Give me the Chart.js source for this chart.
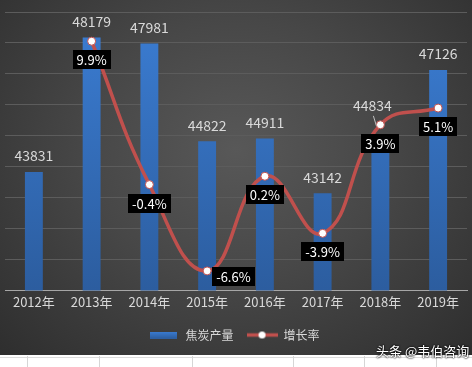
<!DOCTYPE html>
<html>
<head>
<meta charset="utf-8">
<script src="https://cdn.jsdelivr.net/npm/chart.js@4/dist/chart.umd.min.js"></script>
<style>
  html, body { margin: 0; padding: 0; background: #fff; }
  #wrap { position: relative; width: 472px; height: 367px; overflow: hidden; }
  #box {
    position: absolute; left: 0; top: 0; width: 472px; height: 355px;
    background: radial-gradient(ellipse at 50% 42%, #585858 0%, #474747 45%, #2e2e2e 100%);
  }
  .vl { position: absolute; top: 356px; width: 1px; height: 11px; background: #d6d6d6; }
  #hl { position: absolute; left: 0; top: 357px; width: 472px; height: 1px; background: #dcdcdc; }
  #mark {
    position: absolute; left: 376px; top: 341px; font: 13px "Noto Sans CJK SC", sans-serif;
    color: #fff; text-shadow: 0 0 2px #000, 0 0 2px #000; white-space: nowrap;
  }
</style>
</head>
<body>
<div id="wrap">
  <div id="hl"></div>
  <div class="vl" style="left:27px"></div>
  <div class="vl" style="left:99px"></div>
  <div class="vl" style="left:192px"></div>
  <div class="vl" style="left:293px"></div>
  <div class="vl" style="left:364px"></div>
  <div class="vl" style="left:436px"></div>
  <div id="box"><canvas id="chart" width="472" height="355"></canvas></div>
  <div id="mark">头条 @韦伯咨询</div>
</div>
<script>
var years = ['2012年', '2013年', '2014年', '2015年', '2016年', '2017年', '2018年', '2019年'];
var output = [43831, 48179, 47981, 44822, 44911, 43142, 44834, 47126];
var growth = [null, 9.9, -0.4, -6.6, 0.2, -3.9, 3.9, 5.1];
var growthText = ['', '9.9%', '-0.4%', '-6.6%', '0.2%', '-3.9%', '3.9%', '5.1%'];

var FONT = '"Noto Sans CJK SC", sans-serif';
var LINE_RED = '#c0504d';

function barGradient(ctx, top, bottom) {
    var g = ctx.createLinearGradient(0, top, 0, bottom);
    g.addColorStop(0, '#3b7dd3');
    g.addColorStop(1, '#2c5d9f');
    return g;
}

// legend swatches
var barSwatch = document.createElement('canvas');
barSwatch.width = 27; barSwatch.height = 7;
(function () {
    var c = barSwatch.getContext('2d');
    c.fillStyle = barGradient(c, 0, 7);
    c.fillRect(0, 0, 27, 7);
})();
var lineSwatch = document.createElement('canvas');
lineSwatch.width = 31; lineSwatch.height = 9;
(function () {
    var c = lineSwatch.getContext('2d');
    c.strokeStyle = LINE_RED; c.lineWidth = 3.5;
    c.beginPath(); c.moveTo(0, 4.5); c.lineTo(31, 4.5); c.stroke();
    c.fillStyle = '#fff';
    c.beginPath(); c.arc(15.5, 4.5, 3.5, 0, Math.PI * 2); c.fill();
})();

var labelsPlugin = {
    id: 'valueLabels',
    afterDatasetsDraw: function (chart) {
        var ctx = chart.ctx;
        ctx.save();
        // bar values
        ctx.font = '14px ' + FONT;
        ctx.fillStyle = '#d9d9d9';
        ctx.textAlign = 'center';
        ctx.textBaseline = 'middle';
        chart.getDatasetMeta(0).data.forEach(function (bar, i) {
            var x = bar.x, y = bar.y - 16;
            if (i === 6) {
                x = bar.x - 8; y = bar.y - 35;
                ctx.strokeStyle = '#bfbfbf'; ctx.lineWidth = 1;
                ctx.beginPath(); ctx.moveTo(bar.x - 7, bar.y - 25); ctx.lineTo(bar.x - 4, bar.y - 15); ctx.stroke();
            }
            ctx.fillText(String(output[i]), x, y);
        });
        // growth labels
        ctx.font = '13px ' + FONT;
        chart.getDatasetMeta(1).data.forEach(function (pt, i) {
            if (growth[i] === null) return;
            var t = growthText[i];
            var w = ctx.measureText(t).width + 8, h = 19;
            var cx = pt.x, cy = pt.y + 18.5;
            if (i === 3) { cx = pt.x + 5 + w / 2; cy = pt.y + 6; }
            ctx.fillStyle = '#000';
            ctx.fillRect(Math.round(cx - w / 2), Math.round(cy - h / 2), Math.round(w), h);
            ctx.fillStyle = '#fff';
            ctx.fillText(t, cx, cy + 0.5);
        });
        ctx.restore();
    }
};

new Chart(document.getElementById('chart'), {
    data: {
        labels: years,
        datasets: [{
            type: 'bar',
            label: '焦炭产量',
            data: output,
            yAxisID: 'y',
            order: 1,
            backgroundColor: function (c) {
                var a = c.chart.chartArea;
                if (!a) return '#3572c0';
                return barGradient(c.chart.ctx, a.top, a.bottom);
            },
            categoryPercentage: 1,
            barPercentage: 0.31
        }, {
            type: 'line',
            label: '增长率',
            data: growth,
            yAxisID: 'y1',
            order: 0,
            borderColor: LINE_RED,
            borderWidth: 3.5,
            tension: 0.45,
            pointRadius: 4,
            pointBackgroundColor: '#fff',
            pointBorderColor: LINE_RED,
            pointBorderWidth: 1
        }]
    },
    options: {
        responsive: false,
        animation: false,
        layout: { padding: { top: 12, left: 0, right: 4, bottom: 4 } },
        plugins: {
            tooltip: { enabled: false },
            legend: {
                position: 'bottom',
                labels: {
                    color: '#d9d9d9',
                    font: { size: 12, family: FONT },
                    usePointStyle: true,
                    pointStyleWidth: 31,
                    padding: 13,
                    sort: function (a, b) { return a.datasetIndex - b.datasetIndex; },
                    generateLabels: function (chart) {
                        var items = Chart.defaults.plugins.legend.labels.generateLabels(chart);
                        items.forEach(function (it) {
                            it.pointStyle = it.datasetIndex === 0 ? barSwatch : lineSwatch;
                            it.fontColor = '#d9d9d9';
                        });
                        return items;
                    }
                }
            }
        },
        scales: {
            x: {
                grid: { display: false, drawTicks: false },
                border: { display: true, color: '#a6a6a6', width: 1 },
                ticks: { color: '#d9d9d9', font: { size: 13, family: FONT }, padding: 4 },
                afterFit: function (s) { s.height += 2; }
            },
            y: {
                position: 'left',
                min: 40000, max: 49000,
                ticks: { display: false, stepSize: 1000 },
                border: { display: false },
                grid: { color: '#5c5c5c', drawTicks: false, lineWidth: 1 }
            },
            y1: {
                display: false,
                min: -8, max: 12
            }
        }
    },
    plugins: [labelsPlugin]
});
</script>
</body>
</html>
